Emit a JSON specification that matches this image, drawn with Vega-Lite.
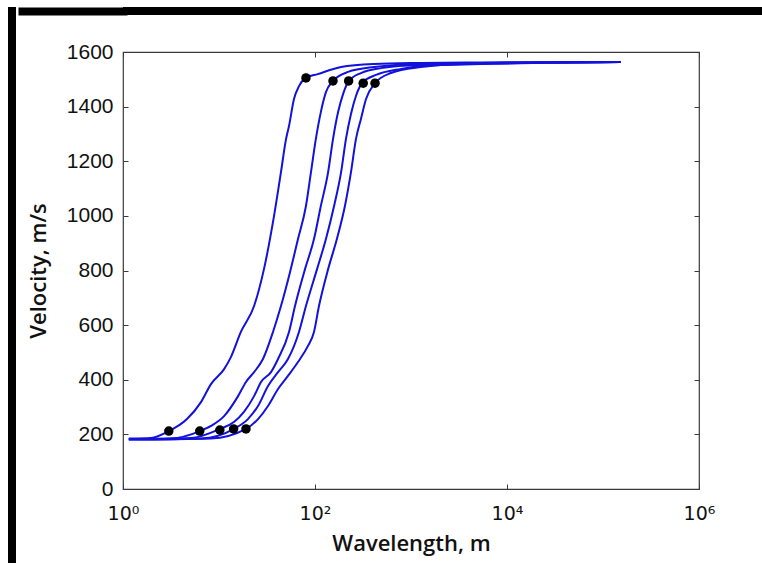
{
  "$schema": "https://vega.github.io/schema/vega-lite/v6.json",
  "padding": {"left": 8, "top": 5, "right": 0, "bottom": 0},
  "background": "white",
  "spacing": 0,
  "config": {
    "view": {"stroke": "#3a3a3a", "strokeWidth": 1.2},
    "axis": {
      "grid": false,
      "domain": false,
      "labelFont": "Liberation Sans",
      "labelFontSize": 21,
      "labelColor": "#111111",
      "tickColor": "#3a3a3a",
      "tickSize": -5,
      "titleFont": "Open Sans",
      "titleFontSize": 22,
      "titleFontWeight": 600,
      "titleColor": "#111111"
    }
  },
  "datasets": {
    "curves": [
      {"c": 1, "x": 1.15, "v": 185}, {"c": 1, "x": 1.96, "v": 187}, {"c": 1, "x": 3.01, "v": 212}, {"c": 1, "x": 4.64, "v": 256}, {"c": 1, "x": 6.49, "v": 318}, {"c": 1, "x": 8.25, "v": 384}, {"c": 1, "x": 11.3, "v": 439}, {"c": 1, "x": 13.3, "v": 483}, {"c": 1, "x": 16.9, "v": 575}, {"c": 1, "x": 23.2, "v": 670}, {"c": 1, "x": 29.4, "v": 805}, {"c": 1, "x": 37.4, "v": 999}, {"c": 1, "x": 44.2, "v": 1160}, {"c": 1, "x": 49.9, "v": 1281}, {"c": 1, "x": 53.6, "v": 1329}, {"c": 1, "x": 60.4, "v": 1428}, {"c": 1, "x": 68.1, "v": 1475}, {"c": 1, "x": 80.5, "v": 1505}, {"c": 1, "x": 107, "v": 1519}, {"c": 1, "x": 187, "v": 1545}, {"c": 1, "x": 412, "v": 1556}, {"c": 1, "x": 1271, "v": 1560}, {"c": 1, "x": 5355, "v": 1562}, {"c": 1, "x": 154000, "v": 1563},
      {"c": 2, "x": 1.15, "v": 183}, {"c": 2, "x": 3.16, "v": 185}, {"c": 2, "x": 6.34, "v": 212}, {"c": 2, "x": 8.25, "v": 231}, {"c": 2, "x": 11.3, "v": 267}, {"c": 2, "x": 15.8, "v": 340}, {"c": 2, "x": 19.1, "v": 392}, {"c": 2, "x": 23.2, "v": 428}, {"c": 2, "x": 28.7, "v": 476}, {"c": 2, "x": 36.5, "v": 575}, {"c": 2, "x": 44.2, "v": 670}, {"c": 2, "x": 54.9, "v": 794}, {"c": 2, "x": 66.5, "v": 915}, {"c": 2, "x": 80.5, "v": 1036}, {"c": 2, "x": 90.8, "v": 1160}, {"c": 2, "x": 102, "v": 1281}, {"c": 2, "x": 115, "v": 1380}, {"c": 2, "x": 130, "v": 1453}, {"c": 2, "x": 154, "v": 1494}, {"c": 2, "x": 221, "v": 1527}, {"c": 2, "x": 412, "v": 1545}, {"c": 2, "x": 1271, "v": 1556}, {"c": 2, "x": 154000, "v": 1563},
      {"c": 3, "x": 1.15, "v": 183}, {"c": 3, "x": 5.11, "v": 187}, {"c": 3, "x": 10.24, "v": 220}, {"c": 3, "x": 14.3, "v": 245}, {"c": 3, "x": 18.2, "v": 282}, {"c": 3, "x": 23.2, "v": 340}, {"c": 3, "x": 27.4, "v": 392}, {"c": 3, "x": 34.8, "v": 428}, {"c": 3, "x": 41.2, "v": 476}, {"c": 3, "x": 53.6, "v": 575}, {"c": 3, "x": 61.9, "v": 670}, {"c": 3, "x": 78.7, "v": 805}, {"c": 3, "x": 97.6, "v": 915}, {"c": 3, "x": 115, "v": 1036}, {"c": 3, "x": 137, "v": 1160}, {"c": 3, "x": 154, "v": 1281}, {"c": 3, "x": 174, "v": 1380}, {"c": 3, "x": 196, "v": 1446}, {"c": 3, "x": 226, "v": 1494}, {"c": 3, "x": 301, "v": 1523}, {"c": 3, "x": 487, "v": 1541}, {"c": 3, "x": 1271, "v": 1552}, {"c": 3, "x": 154000, "v": 1563},
      {"c": 4, "x": 1.15, "v": 181}, {"c": 4, "x": 6.49, "v": 185}, {"c": 4, "x": 14.3, "v": 220}, {"c": 4, "x": 20.0, "v": 256}, {"c": 4, "x": 25.5, "v": 304}, {"c": 4, "x": 32.4, "v": 377}, {"c": 4, "x": 41.2, "v": 428}, {"c": 4, "x": 52.3, "v": 476}, {"c": 4, "x": 68.1, "v": 575}, {"c": 4, "x": 80.5, "v": 670}, {"c": 4, "x": 105, "v": 805}, {"c": 4, "x": 130, "v": 915}, {"c": 4, "x": 158, "v": 1036}, {"c": 4, "x": 187, "v": 1160}, {"c": 4, "x": 210, "v": 1281}, {"c": 4, "x": 237, "v": 1373}, {"c": 4, "x": 267, "v": 1439}, {"c": 4, "x": 316, "v": 1490}, {"c": 4, "x": 432, "v": 1516}, {"c": 4, "x": 787, "v": 1538}, {"c": 4, "x": 2054, "v": 1552}, {"c": 4, "x": 154000, "v": 1563},
      {"c": 5, "x": 1.15, "v": 181}, {"c": 5, "x": 8.25, "v": 185}, {"c": 5, "x": 19.1, "v": 220}, {"c": 5, "x": 25.5, "v": 256}, {"c": 5, "x": 32.4, "v": 304}, {"c": 5, "x": 41.2, "v": 366}, {"c": 5, "x": 52.3, "v": 414}, {"c": 5, "x": 66.5, "v": 465}, {"c": 5, "x": 84.5, "v": 524}, {"c": 5, "x": 97.6, "v": 575}, {"c": 5, "x": 110, "v": 670}, {"c": 5, "x": 137, "v": 805}, {"c": 5, "x": 169, "v": 915}, {"c": 5, "x": 205, "v": 1036}, {"c": 5, "x": 237, "v": 1160}, {"c": 5, "x": 267, "v": 1281}, {"c": 5, "x": 301, "v": 1355}, {"c": 5, "x": 340, "v": 1428}, {"c": 5, "x": 422, "v": 1486}, {"c": 5, "x": 617, "v": 1523}, {"c": 5, "x": 1271, "v": 1545}, {"c": 5, "x": 5355, "v": 1560}, {"c": 5, "x": 154000, "v": 1563}
    ],
    "dots": [
      {"x": 3.0, "v": 212}, {"x": 6.3, "v": 212}, {"x": 10.2, "v": 216}, {"x": 14.2, "v": 220}, {"x": 19.1, "v": 220},
      {"x": 80.5, "v": 1505}, {"x": 154, "v": 1494}, {"x": 224, "v": 1494}, {"x": 318, "v": 1486}, {"x": 422, "v": 1486}
    ],
    "bar": [{"k": 1}]
  },
  "hconcat": [
    {
      "width": 8,
      "height": 557,
      "data": {"name": "bar"},
      "mark": {"type": "rect", "color": "black"},
      "encoding": {},
      "view": {"fill": "black", "stroke": null}
    },
    {
      "vconcat": [
        {
          "width": 640,
          "height": 8,
          "data": {"name": "bar"},
          "mark": {"type": "rect", "color": "black"},
          "encoding": {
            "y": {
              "field": "k", "type": "quantitative",
              "scale": {"domain": [0, 2]},
              "axis": {"orient": "left", "values": [1], "labels": false, "title": null, "tickSize": 101, "tickWidth": 8, "tickColor": "black", "tickCap": "square"}
            }
          },
          "view": {"fill": "black", "stroke": null}
        },
        {
          "width": 576,
          "height": 437,
          "layer": [
            {
              "data": {"name": "curves"},
              "mark": {"type": "line", "color": "#1212dc", "strokeWidth": 2, "interpolate": "monotone"},
              "encoding": {
                "x": {
                  "field": "x", "type": "quantitative",
                  "scale": {"type": "log", "domain": [1, 1000000], "nice": false},
                  "axis": {
                    "orient": "bottom",
                    "values": [1, 100, 10000, 1000000],
                    "labelExpr": "'10' + ['⁰','¹','²','³','⁴','⁵','⁶'][round(log(datum.value)/LN10)]",
                    "labelFlush": false,
                    "labelPadding": 20,
                    "labelFont": "DejaVu Sans",
                    "labelFontSize": 19,
                    "title": "Wavelength, m",
                    "titlePadding": 10
                  }
                },
                "y": {
                  "field": "v", "type": "quantitative",
                  "scale": {"domain": [0, 1600], "nice": false},
                  "axis": {
                    "orient": "left",
                    "values": [0, 200, 400, 600, 800, 1000, 1200, 1400, 1600],
                    "format": "d",
                    "labelPadding": 15,
                    "title": "Velocity, m/s",
                    "titleX": -85,
                    "titleBaseline": "middle"
                  }
                },
                "detail": {"field": "c", "type": "nominal"}
              }
            },
            {
              "data": {"name": "dots"},
              "mark": {"type": "circle", "color": "black", "opacity": 1, "size": 90},
              "encoding": {
                "x": {
                  "field": "x", "type": "quantitative",
                  "axis": {"orient": "top", "values": [1, 100, 10000, 1000000], "labels": false, "title": null}
                },
                "y": {
                  "field": "v", "type": "quantitative",
                  "axis": {"orient": "right", "values": [0, 200, 400, 600, 800, 1000, 1200, 1400, 1600], "labels": false, "title": null}
                }
              }
            },
            {
              "data": {"name": "dots"},
              "mark": {"type": "circle", "opacity": 0},
              "encoding": {
                "x": {"field": "x", "type": "quantitative", "axis": null},
                "y": {
                  "field": "v", "type": "quantitative",
                  "axis": {"orient": "left", "values": [800], "labels": false, "title": null, "tickSize": 105, "tickColor": "transparent"}
                }
              }
            }
          ],
          "resolve": {"axis": {"x": "independent", "y": "independent"}}
        }
      ],
      "spacing": 23
    }
  ]
}
